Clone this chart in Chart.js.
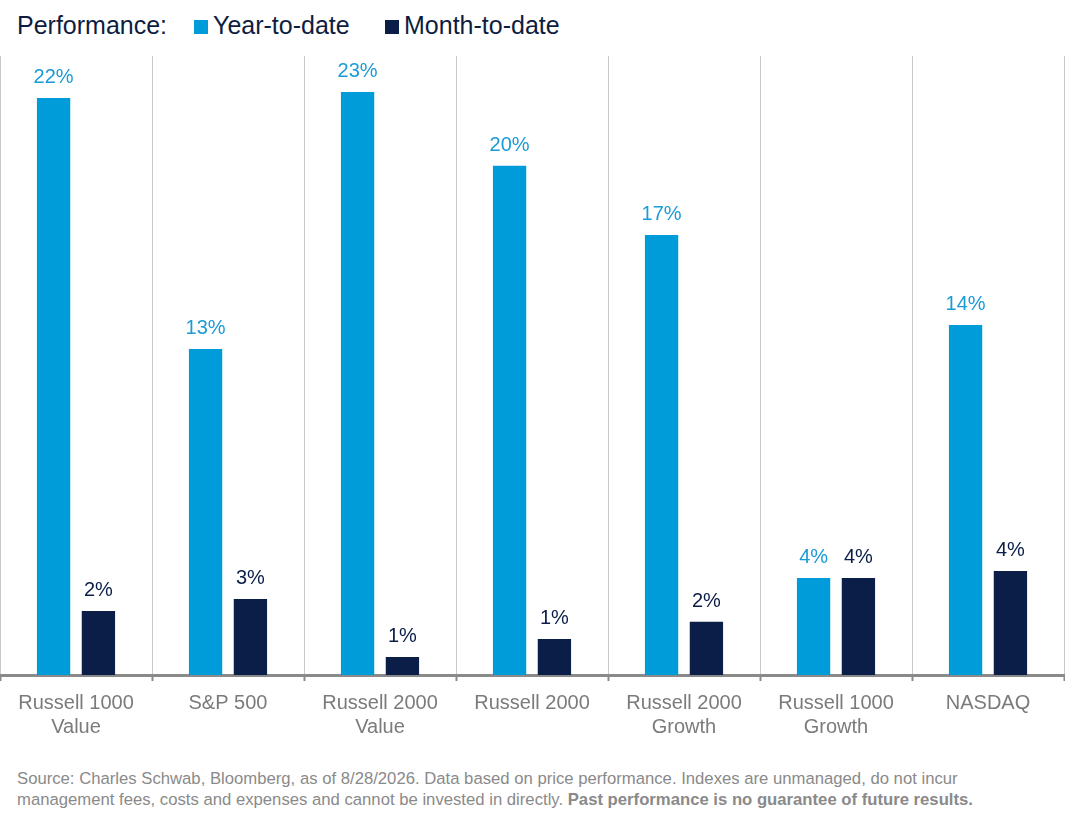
<!DOCTYPE html>
<html>
<head>
<meta charset="utf-8">
<script src="https://cdn.jsdelivr.net/npm/chart.js@4.4.1/dist/chart.umd.min.js"></script>
<style>
  html, body { margin: 0; padding: 0; background: #fff; }
  body { width: 1065px; height: 818px; position: relative; overflow: hidden;
         font-family: "Liberation Sans", Arial, sans-serif; }
  #legend { position: absolute; left: 0; top: 0; width: 1065px; height: 50px; color: #0e1d3f; font-size: 25px; }
  #legend span { position: absolute; top: 10px; line-height: 30px; white-space: nowrap; }
  #legend i { position: absolute; top: 20px; width: 14px; height: 14px; }
  #wrap { position: absolute; left: 0; top: 0; width: 1065px; height: 745px; }
  #note { position: absolute; left: 17px; top: 768px; font-size: 16.7px; line-height: 21px; color: #8a8a8a; white-space: nowrap; }
</style>
</head>
<body>
<div id="legend"><span style="left:17px">Performance:</span></div>
<div id="wrap"><canvas id="perfChart"></canvas></div>
<div id="note">Source: Charles Schwab, Bloomberg, as of 8/28/2026. Data based on price performance. Indexes are unmanaged, do not incur<br>management fees, costs and expenses and cannot be invested in directly. <b>Past performance is no guarantee of future results.</b></div>
<script>
// Index names (two-line labels) and performance values in %
const indexes = [
   ['Russell 1000', 'Value'],
   ['S&P 500'],
   ['Russell 2000', 'Value'],
   ['Russell 2000'],
   ['Russell 2000', 'Growth'],
   ['Russell 1000', 'Growth'],
   ['NASDAQ']
];
const yearToDate = [22.37, 12.64, 22.6, 19.74, 17.06, 3.76, 13.57];
const monthToDate = [2.48, 2.95, 0.70, 1.40, 2.06, 3.76, 4.03];

const ytdColor = '#009cd9';
const mtdColor = '#0b1e47';

// Draws the rounded value above every bar
const valueLabels = {
   id: 'valueLabels',
   afterDatasetsDraw(chart) {
      const ctx = chart.ctx;
      ctx.save();
      ctx.font = '20px "Liberation Sans", Arial, sans-serif';
      ctx.textAlign = 'center';
      ctx.textBaseline = 'alphabetic';
      chart.data.datasets.forEach((ds, i) => {
         ctx.fillStyle = ds.labelColor;
         chart.getDatasetMeta(i).data.forEach((bar, j) => {
            ctx.fillText(Math.round(ds.data[j]) + '%', bar.x, bar.y - 15);
         });
      });
      ctx.restore();
   }
};

const ctx = document.getElementById('perfChart').getContext('2d');
const perfChart = new Chart(ctx, {
   type: 'bar',
   data: {
      labels: indexes,
      datasets: [
         { label: 'Year-to-date', data: yearToDate, backgroundColor: ytdColor, labelColor: '#1a9bd7' },
         { label: 'Month-to-date', data: monthToDate, backgroundColor: mtdColor, labelColor: '#0b1e47' }
      ]
   },
   options: {
      responsive: true,
      maintainAspectRatio: false,
      animation: false,
      categoryPercentage: 0.59,
      barPercentage: 0.743,
      layout: { padding: { top: 56, left: 0, right: 1, bottom: 0 } },
      scales: {
         x: {
            afterFit: (scale) => { scale.height = 70; },
            border: { color: '#8a8a8a', width: 3 },
            grid: {
               offset: true,
               color: (c) => c.index === indexes.length ? 'rgba(0,0,0,0)' : '#c9c9c9',
               lineWidth: 1,
               tickColor: '#8a8a8a',
               tickWidth: 2,
               tickLength: 6
            },
            ticks: {
               color: '#7b7b7b',
               padding: 10,
               font: { family: '"Liberation Sans", Arial, sans-serif', size: 20, lineHeight: 1.22 }
            }
         },
         y: {
            display: false,
            min: 0,
            max: 24
         }
      },
      plugins: {
         legend: { display: false },
         tooltip: { enabled: false }
      }
   },
   plugins: [valueLabels]
});

// Legend row built from the datasets
const legendX = [[194, 213], [385, 404]];
const legend = document.getElementById('legend');
perfChart.data.datasets.forEach((ds, i) => {
   const box = document.createElement('i');
   box.style.left = legendX[i][0] + 'px';
   box.style.background = ds.backgroundColor;
   const txt = document.createElement('span');
   txt.style.left = legendX[i][1] + 'px';
   txt.textContent = ds.label;
   legend.appendChild(box);
   legend.appendChild(txt);
});
</script>
</body>
</html>
